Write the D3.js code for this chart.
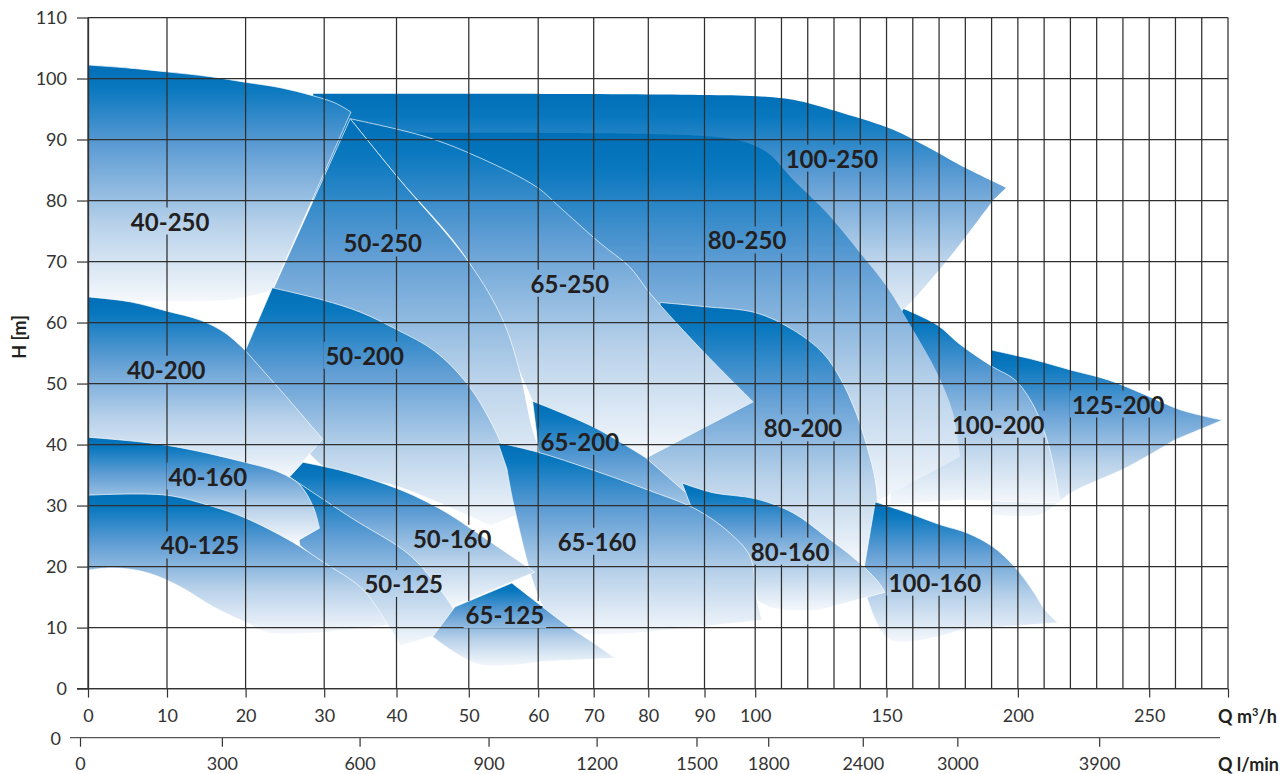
<!DOCTYPE html>
<html><head><meta charset="utf-8">
<script src="https://cdn.jsdelivr.net/npm/d3@7"></script>
<style>body{margin:0;background:#fff}svg{display:block}</style>
</head><body>
<svg id="c" width="1284" height="774"></svg>
<script>
// ---- scale breakpoints (Q m3/h) and ticks ----
const qBreaks = [0,10,20,30,40,50,60,70,80,90,100,280];
const qTicks = [0,10,20,30,40,50,60,70,80,90,100,150,200,250];
const qGrid = [0,10,20,30,40,50,60,70,80,90,100,110,120,130,140,150,160,170,180,190,200,210,220,230,240,250,260,270,280];
const lminTicks = [0,300,600,900,1200,1500,1800,2400,3000,3900];
const hTicks = [0,10,20,30,40,50,60,70,80,90,100,110];

// ---- pump family outlines: segments of [Q m3/h, H m] ----
const p125_200 = [
  [[189.8,55.5],[206.2,53.9],[220.3,52.2],[234.4,50.6],[248.8,48.1],[261.8,45.7],[277.8,44.0]],
  [[259.9,40.8],[241.6,36.3],[220.3,32.1],[208.4,28.5],[189.8,28.5]]
];
const p100_200 = [
  [[155.9,62.4],[169.3,59.6],[178,56.4],[190.6,52.7],[198.9,50.6],[206.2,46.2],[211.9,39.6],[216.1,30.4]],
  [[178,30.9],[151.3,30.1]]
];
const p100_250 = [
  [[28.6,97.5],[54.5,97.5],[89.2,97.3],[100.7,97.1],[114.4,96.5],[133.4,94.3],[152.5,91.6],[165.4,88.8],[178,85.8],[195.5,82.1]],
  [[190.6,80.1],[175.3,71.4],[160.1,63.7],[156.3,62.1]],
  [[150,58],[110,75],[33.6,80],[28.6,80]]
];
const p80_250 = [
  [[33.6,91.1],[54.5,91.1],[80.3,90.9],[89.2,90.6],[97,89.8],[104.5,87.9],[114.4,83.4],[127.4,77.9],[139.9,71.4],[150.2,65.8],[160.1,58.8],[169.3,51.7],[175.3,45.2],[178,38.0]],
  [[143.8,30.1],[89.2,42.4],[71.2,63.7],[33.6,89.9]]
];
const p80_200 = [
  [[82.1,63.3],[90.1,62.6],[100.3,61.6],[114.4,58.8],[125.8,55.0],[132.7,50.6],[138.4,45.2],[142.6,39.6],[145.7,34.2],[146.8,28.8],[147.5,20.6]],
  [[99,21.7],[79.6,37.8]]
];
const p65_250 = [
  [[33.6,93.4],[44.2,90.4],[51.6,87.0],[59.8,82.2],[63.9,78.9],[71.2,73.0],[76.6,69.1],[80.3,64.8],[89.2,55.8],[99.6,47.0]],
  [[79.6,37.8],[59.2,47.1]],
  [[59.2,47.1],[57.4,51.7],[50.0,69.9],[40.1,83.9],[33.6,93.4]]
];
const p50_250 = [
  [[33.6,93.4],[40.1,83.9],[50,69.9],[54.9,60.4],[57.4,51.7],[59.2,42.4],[60.7,38.3]],
  [[53.1,30.9],[19.9,55.2]]
];
const p40_250 = [
  [[0,102.2],[5.3,101.7],[9.9,101.1],[15.5,100.3],[19.9,99.4],[24.4,98.5],[28.2,97.3],[31.5,96.0],[33.7,94.5]],
  [[23.4,65.3],[18.0,63.7],[0,63.7]]
];
const p65_200 = [
  [[59.2,47.1],[69.9,42.9],[79.6,37.8]],
  [[89.2,30.1],[99,21.7]],
  [[100,18.6],[71.2,27.6],[60.3,37.5]]
];
const p50_200 = [
  [[23.4,65.7],[29.8,63.7],[35,61.7],[40.1,58.8],[45.3,55.3],[50,49.6],[54.1,41.6],[56,35.8],[57,31.4],[57.4,28.6]],
  [[53.1,26.7],[40.5,33.0],[29.8,36.5],[19.9,55.2]]
];
const p40_200 = [
  [[0,64.2],[5.3,63.4],[9.9,61.9],[14.2,60.4],[17.4,58.3],[19.9,55.5]],
  [[25,48.1],[29.8,40.9]],
  [[25.6,34.7],[14.2,35.8],[0,40.8]]
];
const p100_160 = [
  [[145.7,30.6],[158.2,28.8],[170.8,26.8],[180.7,25.5],[190.6,23.2],[198.9,19.9],[206.2,15.7],[210.3,12.9],[215.3,10.8]],
  [[178,9.6],[151.3,8.0],[140.7,17.8]]
];
const p80_160 = [
  [[86,33.7],[91.7,32.1],[100.3,31.1],[114.4,28.8],[127,24.9],[138.4,21.1],[146.8,17.5],[149.4,15.8]],
  [[124.7,12.9],[103.7,13.7],[89.2,26.0]]
];
const p65_160 = [
  [[54.2,40.3],[59.8,38.8],[69.9,35.8],[79.8,32.6],[88.7,29.3],[95,25.5],[99,21.6],[100.7,14.5],[102.6,11.2]],
  [[80.3,9.3],[63.9,9.6],[60.3,14.5],[56.5,30],[55.5,36]]
];
const p50_160 = [
  [[27.3,37.1],[32.2,35.8],[36.7,34.2],[40.5,32.6],[44.2,30.6],[47.4,28.5],[50.6,26.0],[55.5,22.2],[59.5,19.1]],
  [[47.7,13.4],[35,22],[25.6,34.7]]
];
const p40_160 = [
  [[0,41.2],[9.9,39.9],[19.9,37.1],[24.4,35.4],[26.9,33.4],[28.6,29.8],[29.4,26.3]],
  [[26.3,24.0],[14.2,27.6],[0,31.7]]
];
const p65_125 = [
  [[48.1,13.4],[56.2,17.3]],
  [[56.2,17.3],[58.8,15.0],[64.5,10.8],[69.9,7.5],[73.9,5.0]],
  [[60.3,4.4],[51.6,3.9],[45,8.5]]
];
const p50_125 = [
  [[25.6,34.7],[33.6,28.1],[41.5,22.2],[45.0,17.8],[47.7,13.4],[49.1,10.1]],
  [[40.5,7.0],[38.8,10.4],[26.9,23.5]]
];
const p40_125 = [
  [[0,31.7],[9.9,31.7],[15.9,29.8],[19.9,28.0],[26,24.0],[29.8,20.8],[35.4,16.2],[38.8,10.4]],
  [[30.8,9.3],[23.1,9.1],[20.1,10.8],[15.9,13.4],[11.7,16.7],[7.5,19.0],[3.2,19.8],[0,19.4]]
];

// ---- labels ----
const labelNames = ['40-250','50-250','65-250','80-250','100-250','40-200','50-200','65-200','80-200','100-200','125-200','40-160','50-160','65-160','80-160','100-160','40-125','50-125','65-125'];
const labelQ = [10.4,38.1,65.7,98.4,129.2,9.9,35.6,67.5,118.2,192.5,238.2,15.2,47.7,70.6,113.3,168.4,14.2,41.0,55.2];
const labelH = [76.5,72.9,66.3,73.4,86.8,52.2,54.5,40.4,42.6,43.2,46.5,34.7,24.5,24.0,22.4,17.3,23.4,17.1,12.0];

// drawing order, back to front
const families = [
  ['125-200',p125_200],['100-200',p100_200],['100-250',p100_250],['80-250',p80_250],['80-200',p80_200],
  ['65-250',p65_250],['50-250',p50_250],['40-250',p40_250],['65-200',p65_200],['50-200',p50_200],
  ['40-200',p40_200],['100-160',p100_160],['80-160',p80_160],['65-160',p65_160],['50-160',p50_160],
  ['50-125',p50_125],['65-125',p65_125],['40-160',p40_160],['40-125',p40_125]
];
const noOutline = ['100-250','80-250'];

// ---- setup ----
const W = 1284, H = 774;
const svg = d3.select('#c');
const x = d3.scaleLinear().domain(qBreaks)
  .range([88,167,245.6,324.2,396.5,468.8,538.2,593.7,648.3,704.5,755.2,1228]);
const y = d3.scaleLinear().domain([0,110]).range([688.6,17.5]);
const xl = d3.scaleLinear().domain(qBreaks.map(q => q/0.06)).range(x.range().map(r => r-8));

const defs = svg.append('defs');
const grad = defs.append('linearGradient').attr('id','fade')
  .attr('x1',0).attr('y1',0).attr('x2',0).attr('y2',1);
[[0,'#006fb7'],[0.1,'#0a78bf'],[0.35,'#5f9dd4'],[0.68,'#b9d2ea'],[1,'#f5f8fc']]
  .forEach(([o,c]) => grad.append('stop').attr('offset',o).attr('stop-color',c));

const mask = defs.append('mask').attr('id','gm').attr('maskUnits','userSpaceOnUse')
  .attr('x',0).attr('y',0).attr('width',W).attr('height',H);
mask.append('rect').attr('width',W).attr('height',H).attr('fill','#fff');

const lineCR = d3.line().x(d => x(d[0])).y(d => y(d[1])).curve(d3.curveCatmullRom.alpha(0.5));
function outline(segs){
  let d = lineCR(segs[0]);
  for (let i = 1; i < segs.length; i++) d += 'L' + lineCR(segs[i]).slice(1);
  return d + 'Z';
}

// ---- shapes ----
const shapesG = svg.append('g');
families.forEach(([name, segs]) => {
  shapesG.append('path').attr('d', outline(segs))
    .attr('fill','url(#fade)')
    .attr('stroke', noOutline.includes(name) ? 'none' : 'rgba(255,255,255,0.75)')
    .attr('stroke-width',0.9)
    .attr('stroke-linejoin','round');
});

// ---- grid ----
const gridG = svg.append('g').attr('mask','url(#gm)').attr('stroke','#2f2f2f').attr('stroke-width',1.25);
gridG.selectAll('line.v').data(qGrid).join('line').attr('class','v')
  .attr('x1',d => x(d)).attr('x2',d => x(d)).attr('y1',y(0)).attr('y2',y(110));
gridG.selectAll('line.h').data(hTicks).join('line').attr('class','h')
  .attr('x1',x(0)).attr('x2',x(280)).attr('y1',d => y(d)).attr('y2',d => y(d));

// ---- labels ----
const labG = svg.append('g').attr('font-family','Lato, sans-serif').attr('font-weight',700)
  .attr('font-size',24).attr('fill','#231f20').attr('text-anchor','middle');
labelNames.forEach((n,i) => {
  const t = labG.append('text').attr('x',x(labelQ[i])).attr('y',y(labelH[i])).attr('dy','0.36em').text(n);
  const bb = t.node().getBBox();
  mask.append('rect').attr('x',bb.x-2).attr('y',bb.y+1).attr('width',bb.width+4).attr('height',bb.height-2).attr('fill','#000');
});

// ---- axes ----
const axisFont = g => g.attr('font-family','Lato, sans-serif').attr('font-size',18).attr('color','#333');

const axTop = d3.axisBottom(x).tickValues(qTicks.concat([280])).tickSize(9).tickSizeOuter(0).tickPadding(12)
  .tickFormat(d => d === 280 ? '' : d);
svg.append('g').attr('transform',`translate(0,${y(0)})`).call(axTop).call(axisFont)
  .call(g => g.select('.domain').remove())
  .call(g => g.selectAll('.tick line').attr('stroke-width',1.2));
svg.append('line').attr('x1',77).attr('x2',x(280)).attr('y1',y(0)).attr('y2',y(0))
  .attr('stroke','#333').attr('stroke-width',1.3);

const axBot = d3.axisBottom(xl).tickValues(lminTicks).tickSize(9).tickSizeOuter(0).tickPadding(11)
  .tickFormat(d3.format('d'));
svg.append('g').attr('transform','translate(0,737.7)').call(axBot).call(axisFont)
  .call(g => g.select('.domain').remove())
  .call(g => g.selectAll('.tick line').attr('stroke-width',1.2));
svg.append('line').attr('x1',70).attr('x2',xl(280/0.06)).attr('y1',737.7).attr('y2',737.7)
  .attr('stroke','#555').attr('stroke-width',1.3);

const axY = d3.axisLeft(y).tickValues(hTicks).tickSize(11).tickSizeOuter(0).tickPadding(10);
svg.append('g').attr('transform',`translate(${x(0)},0)`).call(axY).call(axisFont)
  .call(g => g.select('.domain').attr('stroke-width',1.3))
  .call(g => g.selectAll('.tick line').attr('stroke-width',1.2));

svg.append('text').attr('x',61).attr('y',739).attr('dy','0.35em').attr('text-anchor','end')
  .attr('font-family','Lato, sans-serif').attr('font-size',18).attr('fill','#333').text('0');

const boldLab = svg.append('g').attr('font-family','Lato, sans-serif').attr('font-weight',700)
  .attr('font-size',18).attr('fill','#231f20');
const qm = boldLab.append('text').attr('x',1277).attr('y',723).attr('text-anchor','end');
qm.append('tspan').text('Q m');
qm.append('tspan').attr('font-size',11).attr('dy',-7).text('3');
qm.append('tspan').attr('dy',7).text('/h');
boldLab.append('text').attr('x',1279).attr('y',770.5).attr('text-anchor','end').text('Q l/min');
boldLab.append('text').attr('transform','translate(26,337) rotate(-90)').attr('text-anchor','middle').text('H [m]');
</script>
</body></html>
